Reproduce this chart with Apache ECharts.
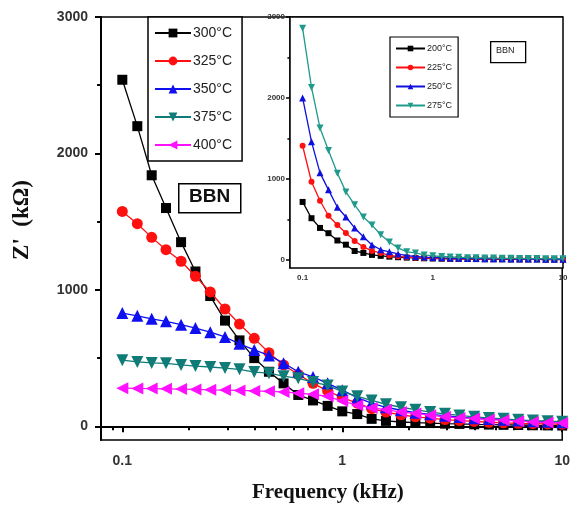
<!DOCTYPE html>
<html>
<head>
<meta charset="utf-8">
<script src="https://cdn.jsdelivr.net/npm/echarts@6/dist/echarts.min.js"></script>
<style>
  html, body { margin: 0; padding: 0; background: #fff; }
  #chart { width: 573px; height: 510px; }
</style>
</head>
<body>
<div id="chart"></div>
<script>
// frequencies (kHz), same sweep for both panels
const freq = [0.1, 0.117, 0.136, 0.158, 0.185, 0.215, 0.251, 0.293, 0.341, 0.398, 0.464,
    0.541, 0.631, 0.736, 0.858, 1, 1.17, 1.36, 1.58, 1.85, 2.15, 2.51, 2.93, 3.41, 3.98,
    4.64, 5.41, 6.31, 7.36, 8.58, 10]

// main panel, Z' (kOhm)
const mainNames = ['300°C', '325°C', '350°C', '375°C', '400°C']
const z300 = [2540, 2200, 1840, 1600, 1350, 1135, 955, 775, 630, 500, 400, 315, 230, 190, 150,
    110, 90, 55, 40, 32, 28, 24, 20, 18, 15, 13, 11, 10, 8, 7, 6]
const z325 = [1575, 1485, 1385, 1295, 1210, 1100, 985, 860, 750, 645, 540, 450, 380, 315, 260,
    210, 170, 130, 105, 85, 70, 60, 50, 42, 36, 30, 26, 22, 20, 18, 16]
const z350 = [830, 810, 788, 770, 745, 720, 690, 655, 605, 560, 520, 463, 400, 362, 315,
    265, 210, 170, 140, 118, 100, 88, 78, 68, 60, 54, 48, 42, 38, 34, 30]
const z375 = [485, 472, 465, 462, 450, 442, 435, 427, 418, 398, 390, 368, 352, 325, 300,
    255, 220, 190, 162, 140, 122, 105, 92, 80, 70, 62, 55, 48, 42, 38, 34]
const z400 = [280, 278, 277, 275, 273, 271, 268, 266, 263, 260, 257, 252, 243, 235, 220,
    185, 155, 135, 122, 105, 95, 82, 70, 62, 58, 50, 45, 38, 32, 28, 25]

// inset panel
const insetNames = ['200°C', '225°C', '250°C', '275°C']
const z200 = [716, 515, 395, 330, 240, 188, 110, 86, 62, 50, 40, 33, 28, 24, 20,
    17, 15, 13, 12, 11, 10, 9, 8, 8, 7, 7, 6, 6, 5, 5, 5]
const z225 = [1410, 965, 730, 545, 432, 333, 235, 160, 111, 86, 55, 42, 34, 28, 24,
    20, 18, 16, 14, 13, 12, 11, 10, 9, 9, 8, 8, 7, 7, 6, 6]
const z250 = [2000, 1460, 1075, 865, 650, 530, 395, 285, 185, 125, 100, 74, 52, 42, 35,
    30, 26, 23, 20, 18, 16, 15, 14, 13, 12, 11, 10, 10, 9, 9, 8]
const z275 = [2860, 2130, 1630, 1350, 1070, 840, 680, 530, 430, 310, 222, 148, 100, 86, 62,
    50, 42, 36, 32, 28, 26, 24, 22, 20, 19, 18, 17, 16, 15, 14, 13]

const xMajor = [0.1, 1, 10]
const xMinor = [0.08, 0.09, 0.2, 0.3, 0.4, 0.5, 0.6, 0.7, 0.8, 0.9, 2, 3, 4, 5, 6, 7, 8, 9]
const yMajor = [0, 1000, 2000, 3000]
const yMinor = [500, 1500, 2500]

function pts(vals) {
    return freq.map((f, i) => [f, vals[i]])
}

var labelFont = 'Liberation Sans, Arial, sans-serif'
var titleFont = 'Liberation Serif, Times New Roman, serif'

function xAxisPair(grid, size, margin, lw, tl) {
    return [
        {
            type: 'log', gridIndex: grid, min: 0.08, max: 10, position: 'bottom',
            axisLine: { lineStyle: { color: '#000', width: lw } },
            axisTick: { customValues: xMajor, length: tl, inside: false, lineStyle: { color: '#000', width: lw } },
            axisLabel: { customValues: xMajor, margin: margin, fontSize: size, fontWeight: 'bold',
                fontFamily: labelFont, color: '#333', formatter: (v) => String(v) },
            splitLine: { show: false },
        },
        {
            type: 'log', gridIndex: grid, min: 0.08, max: 10, position: 'bottom',
            axisLine: { show: false },
            axisTick: { customValues: xMinor, length: tl * 0.65, inside: false, lineStyle: { color: '#000', width: lw } },
            axisLabel: { show: false },
            splitLine: { show: false },
        },
    ]
}

function yAxisPair(grid, size, margin, lw, tl) {
    return [
        {
            type: 'value', gridIndex: grid, min: -100, max: 3000, position: 'left',
            axisLine: { show: true, lineStyle: { color: '#000', width: lw } },
            axisTick: { show: true, customValues: yMajor, length: tl, inside: false, lineStyle: { color: '#000', width: lw } },
            axisLabel: { customValues: yMajor, margin: margin, fontSize: size, fontWeight: 'bold',
                fontFamily: labelFont, color: '#333', formatter: (v) => String(v) },
            splitLine: { show: false },
        },
        {
            type: 'value', gridIndex: grid, min: -100, max: 3000, position: 'left',
            axisLine: { show: false },
            axisTick: { show: true, customValues: yMinor, length: tl * 0.65, inside: false, lineStyle: { color: '#000', width: lw } },
            axisLabel: { show: false },
            splitLine: { show: false },
        },
    ]
}

var mainStyle = [
    { color: '#000000', symbol: 'rect', size: 10, rot: 0 },
    { color: '#ff1010', symbol: 'circle', size: 11, rot: 0 },
    { color: '#1010ee', symbol: 'triangle', size: 12, rot: 0 },
    { color: '#107c78', symbol: 'triangle', size: 12, rot: 180 },
    { color: '#ff10ff', symbol: 'triangle', size: 12, rot: 90 },
]
var insetStyle = [
    { color: '#000000', symbol: 'rect', size: 6, rot: 0 },
    { color: '#ff1010', symbol: 'circle', size: 6, rot: 0 },
    { color: '#1010dd', symbol: 'triangle', size: 7, rot: 0 },
    { color: '#1f9a8c', symbol: 'triangle', size: 7, rot: 180 },
]

var mainData = [z300, z325, z350, z375, z400]
var insetData = [z200, z225, z250, z275]

var seriesArray = []
mainData.forEach((d, i) => {
    var s = mainStyle[i]
    seriesArray.push({
        name: mainNames[i], type: 'line', xAxisIndex: 0, yAxisIndex: 0,
        data: pts(d), symbol: s.symbol, symbolSize: s.size, symbolRotate: s.rot,
        showAllSymbol: true, clip: false,
        lineStyle: { color: s.color, width: 1.3 }, itemStyle: { color: s.color },
        z: 2 + i,
    })
})
insetData.forEach((d, i) => {
    var s = insetStyle[i]
    seriesArray.push({
        name: insetNames[i], type: 'line', xAxisIndex: 2, yAxisIndex: 2,
        data: pts(d), symbol: s.symbol, symbolSize: s.size, symbolRotate: s.rot,
        showAllSymbol: true, clip: false,
        lineStyle: { color: s.color, width: 1.3 }, itemStyle: { color: s.color },
        z: 12 + i,
    })
})

var myChart = echarts.init(document.getElementById('chart'))
var option = {
    animation: false,
    backgroundColor: '#fff',
    grid: [
        { left: 101, top: 17, right: 10, bottom: 70, show: true, borderColor: '#000', borderWidth: 1.5,
            backgroundColor: 'transparent' },
        { left: 290, top: 17, right: 10, bottom: 242, show: true, borderColor: '#000', borderWidth: 1.5,
            backgroundColor: '#fff', z: 1 },
    ],
    xAxis: [].concat(xAxisPair(0, 14, 14, 2, 6), xAxisPair(1, 8, 6, 1.5, 4)),
    yAxis: [].concat(yAxisPair(0, 14, 13, 2, 6), yAxisPair(1, 8, 5, 1.5, 4)),
    legend: [
        {
            data: mainNames, orient: 'vertical', left: 148, top: 17,
            padding: [9, 10, 9, 6], itemGap: 14, itemWidth: 36, itemHeight: 11,
            backgroundColor: '#fff', borderColor: '#000', borderWidth: 1.5,
            textStyle: { fontSize: 14, fontFamily: labelFont, color: '#222', padding: [0, 0, 0, -3] },
            z: 20,
        },
        {
            data: insetNames, orient: 'vertical', left: 390, top: 37,
            padding: [7, 6, 7, 5], itemGap: 10, itemWidth: 29, itemHeight: 7,
            backgroundColor: '#fff', borderColor: '#000', borderWidth: 1.2,
            textStyle: { fontSize: 9, fontFamily: labelFont, color: '#222', padding: [0, 0, 0, -3] },
            z: 20,
        },
    ],
    graphic: [
        { type: 'rect', left: 178, top: 183, shape: { width: 62, height: 29 },
            style: { fill: '#fff', stroke: '#000', lineWidth: 1.5 }, z: 30 },
        { type: 'text', left: 189, top: 187,
            style: { text: 'BBN', fontSize: 19, fontWeight: 'bold', fontFamily: labelFont, fill: '#111' }, z: 31 },
        { type: 'rect', left: 490, top: 41, shape: { width: 35, height: 21 },
            style: { fill: '#fff', stroke: '#000', lineWidth: 1.3 }, z: 30 },
        { type: 'text', left: 496, top: 46,
            style: { text: 'BBN', fontSize: 9, fontFamily: labelFont, fill: '#222' }, z: 31 },
        { type: 'text', left: 252, top: 482,
            style: { text: 'Frequency (kHz)', fontSize: 21, fontWeight: 'bold', fontFamily: titleFont, fill: '#111' } },
        { type: 'text', x: 22, y: 220, rotation: Math.PI / 2,
            style: { text: "Z'  (kΩ)", fontSize: 23, fontWeight: 'bold', fontFamily: titleFont, fill: '#111',
                align: 'center', verticalAlign: 'middle' } },
    ],
    series: seriesArray,
}
myChart.setOption(option)
</script>
</body>
</html>
